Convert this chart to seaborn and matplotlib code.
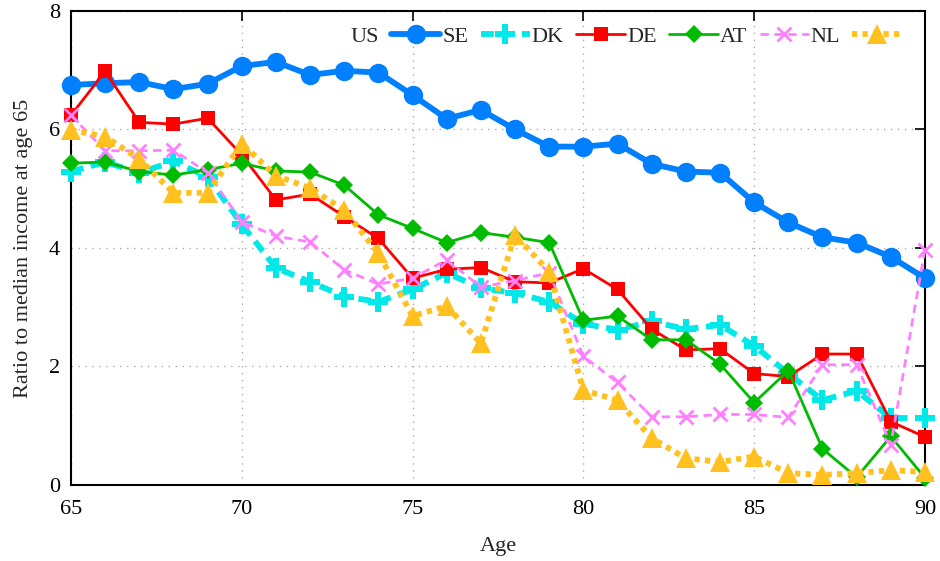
import numpy as np
import pandas as pd
import matplotlib
matplotlib.use("Agg")
import matplotlib.pyplot as plt
import seaborn as sns

ages = list(range(65, 91))

us = [6.75, 6.78, 6.80, 6.68, 6.77, 7.07, 7.14, 6.92, 6.99, 6.96, 6.58, 6.18, 6.33,
      6.00, 5.71, 5.71, 5.76, 5.42, 5.29, 5.27, 4.77, 4.43, 4.18, 4.09, 3.85, 3.49]
se = [5.29, 5.45, 5.27, 5.46, 5.20, 4.40, 3.66, 3.43, 3.18, 3.09, 3.30, 3.58, 3.32,
      3.24, 3.09, 2.72, 2.62, 2.76, 2.63, 2.70, 2.35, 1.88, 1.43, 1.59, 1.13, 1.13]
dk = [6.24, 6.98, 6.12, 6.09, 6.19, 5.57, 4.81, 4.91, 4.53, 4.16, 3.49, 3.64, 3.67,
      3.43, 3.41, 3.65, 3.30, 2.63, 2.28, 2.30, 1.88, 1.83, 2.21, 2.21, 1.07, 0.81]
de = [5.43, 5.45, 5.29, 5.23, 5.32, 5.43, 5.30, 5.28, 5.06, 4.56, 4.33, 4.09, 4.26,
      4.18, 4.09, 2.78, 2.85, 2.45, 2.45, 2.04, 1.39, 1.93, 0.61, 0.13, 0.82, 0.12]
at = [6.24, 5.64, 5.64, 5.65, 5.27, 4.44, 4.20, 4.10, 3.63, 3.39, 3.49, 3.80, 3.34,
      3.45, 3.58, 2.17, 1.73, 1.15, 1.15, 1.19, 1.19, 1.14, 2.03, 2.03, 0.68, 3.97]
nl = [5.99, 5.88, 5.50, 4.93, 4.93, 5.76, 5.22, 5.01, 4.64, 3.91, 2.85, 3.02, 2.39,
      4.22, 3.60, 1.60, 1.43, 0.79, 0.45, 0.39, 0.48, 0.20, 0.17, 0.20, 0.25, 0.22]

countries = ["US", "SE", "DK", "DE", "AT", "NL"]
values = [us, se, dk, de, at, nl]

df = pd.DataFrame({
    "Age": ages * len(countries),
    "Ratio": [v for series in values for v in series],
    "Country": [c for c in countries for _ in ages],
})

sns.set_theme(style="white")
plt.rcParams["font.family"] = ["Liberation Serif", "DejaVu Serif"]
plt.rcParams["font.size"] = 16

styles = {
    "US": dict(color="#0080ff", lw=4.2, ls="-", marker="o", ms=14, mew=0),
    "SE": dict(color="#00e8e8", lw=4.2, ls=(0, (2.2, 1.3)), marker="P", ms=14, mew=0),
    "DK": dict(color="#ff0000", lw=2.0, ls="-", marker="s", ms=10, mew=0),
    "DE": dict(color="#00bb00", lw=2.0, ls="-", marker="D", ms=9.5, mew=0),
    "AT": dict(color="#ff80ff", lw=2.0, ls=(0, (3, 2)), marker="x", ms=10, mew=2.0),
    "NL": dict(color="#ffc020", lw=4.2, ls=(0, (0.9, 0.9)), marker="^", ms=14, mew=0),
}

fig = plt.figure(figsize=(9.4, 5.61), dpi=100)
ax = fig.add_axes([0.0755, 0.1355, 0.9085, 0.845])

for c in countries:
    st = styles[c]
    sub = df[df["Country"] == c]
    sns.lineplot(data=sub, x="Age", y="Ratio", ax=ax, color=st["color"],
                 linewidth=st["lw"], linestyle=st["ls"], marker=st["marker"],
                 markersize=st["ms"], markeredgewidth=st["mew"],
                 markeredgecolor=st["color"], label=c, clip_on=False,
                 zorder=3)

ax.set_xlim(65, 90)
ax.set_ylim(0, 8)
ax.set_xticks([65, 70, 75, 80, 85, 90])
ax.set_yticks([0, 2, 4, 6, 8])
ax.set_xlabel("Age", fontsize=16, labelpad=13)
ax.set_ylabel("Ratio to median income at age 65", fontsize=16, labelpad=11)
ax.grid(True, color="#aaaaaa", linestyle=(0, (1, 4)), linewidth=1.0)
ax.tick_params(axis="x", direction="in", length=7, width=1.2,
               top=True, labelsize=16, colors="black", pad=11)
ax.tick_params(axis="y", direction="in", length=7, width=1.2,
               right=True, labelsize=16, colors="black", pad=8)
for sp in ax.spines.values():
    sp.set_color("black")
    sp.set_linewidth(1.5)

leg = ax.legend(loc="upper right", bbox_to_anchor=(0.988, 0.995), ncol=6,
                frameon=False, markerfirst=False, handlelength=2.2,
                columnspacing=0.1, handletextpad=0.55, fontsize=16,
                borderaxespad=0.2)

fig.savefig("out.png", dpi=100)
